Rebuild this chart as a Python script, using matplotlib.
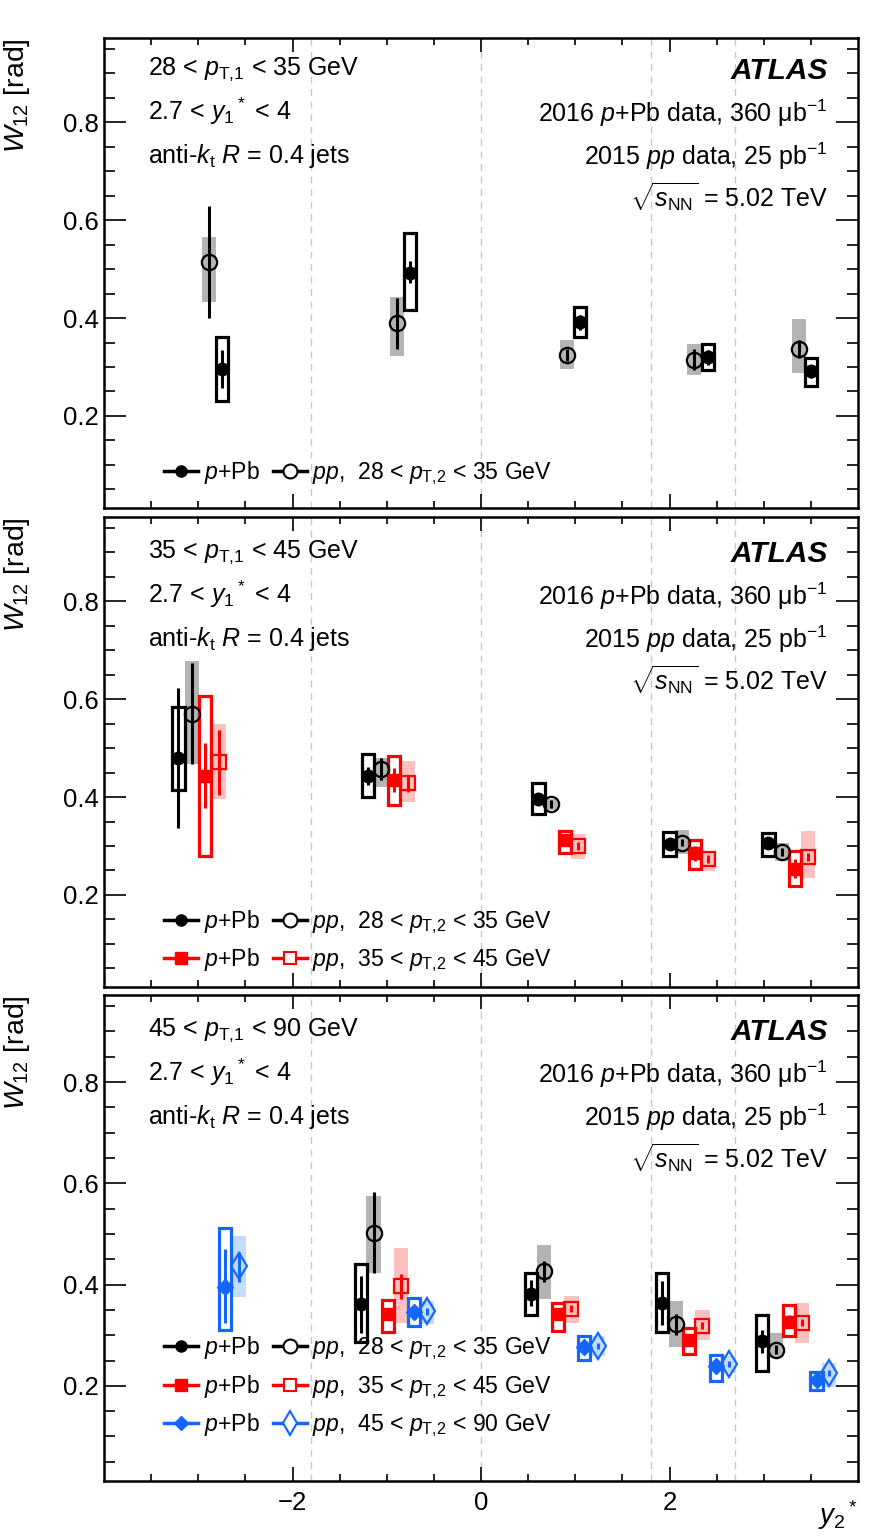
import numpy as np
import matplotlib
matplotlib.use("Agg")
import matplotlib.pyplot as plt
from matplotlib.lines import Line2D
from matplotlib.patches import Rectangle

plt.rcParams['font.family'] = ['Liberation Sans', 'DejaVu Sans']
plt.rcParams['mathtext.fontset'] = 'custom'
plt.rcParams['mathtext.rm'] = 'Liberation Sans'
plt.rcParams['mathtext.it'] = 'Liberation Sans:italic'
plt.rcParams['mathtext.bf'] = 'Liberation Sans:bold'

FS = 18
LFS = 16.6

# ---- data: x, y, stat error ends, systematic ends ----
# top panel, 28 < pT,1 < 35 GeV
top_ppb_k = dict(x=[-2.75, -0.75, 1.05, 2.41, 3.50], y=[0.296, 0.493, 0.391, 0.320, 0.291],
                 slo=[0.257, 0.471, 0.375, 0.305, 0.278], shi=[0.335, 0.517, 0.407, 0.335, 0.304],
                 ylo=[0.230, 0.417, 0.361, 0.294, 0.262], yhi=[0.362, 0.573, 0.422, 0.346, 0.319])
top_pp_k = dict(x=[-2.89, -0.89, 0.91, 2.26, 3.37], y=[0.514, 0.390, 0.324, 0.314, 0.337],
                slo=[0.400, 0.337, 0.312, 0.293, 0.318], shi=[0.629, 0.441, 0.336, 0.336, 0.356],
                ylo=[0.432, 0.322, 0.295, 0.284, 0.287], yhi=[0.565, 0.444, 0.356, 0.348, 0.398])

# middle panel, 35 < pT,1 < 45 GeV
mid_ppb_k = dict(x=[-3.21, -1.20, 0.61, 2.00, 3.05], y=[0.480, 0.443, 0.397, 0.305, 0.307],
                 slo=[0.336, 0.425, 0.385, 0.293, 0.295], shi=[0.623, 0.461, 0.409, 0.317, 0.319],
                 ylo=[0.414, 0.401, 0.365, 0.280, 0.280], yhi=[0.583, 0.487, 0.429, 0.328, 0.327])
mid_pp_k = dict(x=[-3.07, -1.06, 0.74, 2.13, 3.19], y=[0.569, 0.457, 0.386, 0.307, 0.288],
                slo=[0.467, 0.435, 0.378, 0.299, 0.280], shi=[0.673, 0.479, 0.394, 0.315, 0.296],
                ylo=[0.467, 0.421, 0.373, 0.284, 0.270], yhi=[0.678, 0.479, 0.397, 0.332, 0.307])
mid_ppb_r = dict(x=[-2.93, -0.92, 0.89, 2.27, 3.33], y=[0.443, 0.435, 0.312, 0.285, 0.254],
                 slo=[0.377, 0.411, 0.300, 0.270, 0.235], shi=[0.511, 0.459, 0.324, 0.300, 0.273],
                 ylo=[0.280, 0.384, 0.285, 0.254, 0.218], yhi=[0.607, 0.484, 0.330, 0.312, 0.290])
mid_pp_r = dict(x=[-2.78, -0.77, 1.03, 2.41, 3.47], y=[0.472, 0.428, 0.300, 0.273, 0.278],
                slo=[0.405, 0.411, 0.292, 0.265, 0.270], shi=[0.537, 0.444, 0.308, 0.281, 0.286],
                ylo=[0.395, 0.389, 0.273, 0.249, 0.235], yhi=[0.550, 0.473, 0.324, 0.287, 0.330])

# bottom panel, 45 < pT,1 < 90 GeV
bot_ppb_k = dict(x=[-1.27, 0.53, 1.92, 2.98], y=[0.362, 0.382, 0.364, 0.289],
                 slo=[0.304, 0.357, 0.321, 0.265], shi=[0.417, 0.410, 0.407, 0.311],
                 ylo=[0.286, 0.339, 0.306, 0.230], yhi=[0.441, 0.423, 0.423, 0.339])
bot_pp_k = dict(x=[-1.14, 0.67, 2.07, 3.13], y=[0.502, 0.426, 0.323, 0.271],
                slo=[0.423, 0.405, 0.300, 0.262], shi=[0.583, 0.446, 0.341, 0.280],
                ylo=[0.423, 0.372, 0.276, 0.256], yhi=[0.575, 0.479, 0.368, 0.304])
bot_ppb_r = dict(x=[-0.99, 0.82, 2.21, 3.27], y=[0.342, 0.342, 0.291, 0.327],
                 slo=[0.330, 0.330, 0.280, 0.315], shi=[0.354, 0.354, 0.302, 0.339],
                 ylo=[0.306, 0.309, 0.263, 0.298], yhi=[0.369, 0.364, 0.315, 0.360])
bot_pp_r = dict(x=[-0.85, 0.96, 2.35, 3.41], y=[0.397, 0.352, 0.319, 0.325],
                slo=[0.372, 0.345, 0.312, 0.318], shi=[0.420, 0.359, 0.326, 0.332],
                ylo=[0.324, 0.324, 0.291, 0.285], yhi=[0.473, 0.377, 0.350, 0.364])
bot_ppb_b = dict(x=[-2.72, -0.71, 1.09, 2.49, 3.56], y=[0.395, 0.345, 0.276, 0.240, 0.212],
                 slo=[0.324, 0.335, 0.266, 0.228, 0.202], shi=[0.471, 0.355, 0.286, 0.252, 0.222],
                 ylo=[0.310, 0.319, 0.252, 0.209, 0.192], yhi=[0.512, 0.374, 0.298, 0.261, 0.228])
bot_pp_b = dict(x=[-2.57, -0.57, 1.24, 2.63, 3.69], y=[0.437, 0.347, 0.278, 0.243, 0.225],
                slo=[0.405, 0.340, 0.272, 0.237, 0.219], shi=[0.464, 0.354, 0.284, 0.249, 0.231],
                ylo=[0.375, 0.322, 0.258, 0.226, 0.198], yhi=[0.496, 0.368, 0.298, 0.259, 0.245])

pt1_labels = ['28 < $p_{\\mathrm{T{,}1}}$ < 35 GeV', '35 < $p_{\\mathrm{T{,}1}}$ < 45 GeV',
              '45 < $p_{\\mathrm{T{,}1}}$ < 90 GeV']
pt2_labels = ['28 < $p_{\\mathrm{T{,}2}}$ < 35 GeV', '35 < $p_{\\mathrm{T{,}2}}$ < 45 GeV',
              '45 < $p_{\\mathrm{T{,}2}}$ < 90 GeV']
dash_x = [-1.8, 0, 1.8, 2.7]

# style per pT,2 bin
styles = [
    dict(c='black', band='#b4b4b4', m_ppb='o', m_pp='o', ms_ppb=9, ms_pp=11),
    dict(c='#ff0000', band='#ffc0c0', m_ppb='s', m_pp='s', ms_ppb=9, ms_pp=10),
    dict(c='#1466ff', band='#c2dcff', m_ppb='D', m_pp='d', ms_ppb=8, ms_pp=13),
]

panels = [
    [(top_ppb_k, top_pp_k)],
    [(mid_ppb_k, mid_pp_k), (mid_ppb_r, mid_pp_r)],
    [(bot_ppb_k, bot_pp_k), (bot_ppb_r, bot_pp_r), (bot_ppb_b, bot_pp_b)],
]

fig = plt.figure(figsize=(8.75, 15.36), dpi=100)
W, H = 875.0, 1536.0
left, right = 104, 858
pix = [(38, 508), (517, 987), (995, 1481)]
leg_off = [21, 13, 42]
axes = []
for (t, b) in pix:
    axes.append(fig.add_axes([left / W, 1 - b / H, (right - left) / W, (b - t) / H]))

BOXW = 0.13
BANDW = 0.15

def draw_series(ax, ppb, pp, st):
    c = st['c']
    for x, lo, hi in zip(pp['x'], pp['ylo'], pp['yhi']):
        ax.add_patch(Rectangle((x - BANDW / 2, lo), BANDW, hi - lo, facecolor=st['band'],
                               edgecolor='none', zorder=2))
    for x, lo, hi in zip(ppb['x'], ppb['ylo'], ppb['yhi']):
        ax.add_patch(Rectangle((x - BOXW / 2, lo), BOXW, hi - lo, facecolor='none',
                               edgecolor=c, lw=2.3, zorder=3))
    y = np.array(pp['y'])
    ax.errorbar(pp['x'], y, yerr=[y - np.array(pp['slo']), np.array(pp['shi']) - y],
                fmt=st['m_pp'], color=c, mfc='none', mec=c, mew=1.6, ms=st['ms_pp'],
                elinewidth=2.2, capsize=0, zorder=4)
    y = np.array(ppb['y'])
    ax.errorbar(ppb['x'], y, yerr=[y - np.array(ppb['slo']), np.array(ppb['shi']) - y],
                fmt=st['m_ppb'], color=c, mfc=c, mec=c, ms=st['ms_ppb'],
                elinewidth=2.2, capsize=0, zorder=5)

for i, ax in enumerate(axes):
    for xd in dash_x:
        ax.axvline(xd, color='#c8c8c8', lw=1.0, ls=(0, (5, 4)), zorder=1)
    handles_ppb, handles_pp = [], []
    for j, (ppb, pp) in enumerate(panels[i]):
        st = styles[j]
        draw_series(ax, ppb, pp, st)
        handles_ppb.append(Line2D([], [], color=st['c'], marker=st['m_ppb'], ms=st['ms_ppb'] - 1,
                                  mfc=st['c'], lw=2.5))
        handles_pp.append(Line2D([], [], color=st['c'], marker=st['m_pp'], ms=st['ms_pp'] - 1,
                                 mfc='white', mew=1.5, lw=2.5))
    n = len(panels[i])
    labels = ['$p$+Pb'] * n + ['$pp$,  ' + pt2_labels[j] for j in range(n)]
    ph = pix[i][1] - pix[i][0]
    ax.legend(handles_ppb + handles_pp, labels, ncol=2, loc='lower left',
              bbox_to_anchor=(0.08, leg_off[i] / ph), frameon=False, fontsize=LFS,
              handlelength=1.45, handletextpad=0.25, columnspacing=0.6,
              labelspacing=0.5, borderpad=0, borderaxespad=0)

    ax.set_xlim(-4, 4)
    ax.set_ylim(0.012, 0.972)
    ax.set_xticks([-2, 0, 2])
    ax.set_xticks(np.arange(-3.5, 4.0, 0.5), minor=True)
    ax.set_yticks([0.2, 0.4, 0.6, 0.8])
    ax.set_yticks(np.arange(0.05, 0.97, 0.05), minor=True)
    ax.set_yticklabels(['0.2', '0.4', '0.6', '0.8'])
    ax.tick_params(axis='both', which='both', direction='in', top=True, right=True,
                   labelsize=18.5, width=1.2)
    ax.tick_params(axis='y', which='major', length=16, pad=4)
    ax.tick_params(axis='y', which='minor', length=8)
    ax.tick_params(axis='x', which='major', length=10, pad=7)
    ax.tick_params(axis='x', which='minor', length=5)
    for sp in ax.spines.values():
        sp.set_linewidth(1.8)
    if i < 2:
        ax.set_xticklabels([])
    else:
        ax.set_xlabel('$y_2$$^*$', fontsize=20, loc='right')
        ax.xaxis.set_label_coords(1.0, -0.036)

    ax.set_ylabel('$W_{12}$ [rad]', fontsize=20.5, loc='top')
    ax.yaxis.set_label_coords(-0.095, 1.0)

    def put(txt, xf, dy_px, ha, **kw):
        kw.setdefault('fontsize', FS)
        ax.annotate(txt, xy=(xf, 1.0), xycoords='axes fraction',
                    xytext=(0, -dy_px * 0.72), textcoords='offset points',
                    ha=ha, va='baseline', **kw)
    off = 0 if i == 0 else 4
    put(pt1_labels[i], 0.058, 37 + off, 'left')
    put('2.7 < $y_1$$^*$ < 4', 0.058, 82 + off, 'left')
    put('anti-$k_{\\mathrm{t}}$ $R$ = 0.4 jets', 0.058, 125 + off, 'left')
    put('ATLAS', 0.960, 41 + off, 'right', fontweight='bold', fontstyle='italic', fontsize=21.5)
    put('2016 $p$+Pb data, 360 $\\mathrm{\\mu}$b$^{\\mathrm{-1}}$', 0.960, 84 + off, 'right')
    put('2015 $pp$ data, 25 pb$^{\\mathrm{-1}}$', 0.960, 127 + off, 'right')
    put('$\\sqrt{s_{\\mathrm{NN}}}$ = 5.02 TeV', 0.960, 170 + off, 'right')

fig.savefig('out.png', dpi=100)
